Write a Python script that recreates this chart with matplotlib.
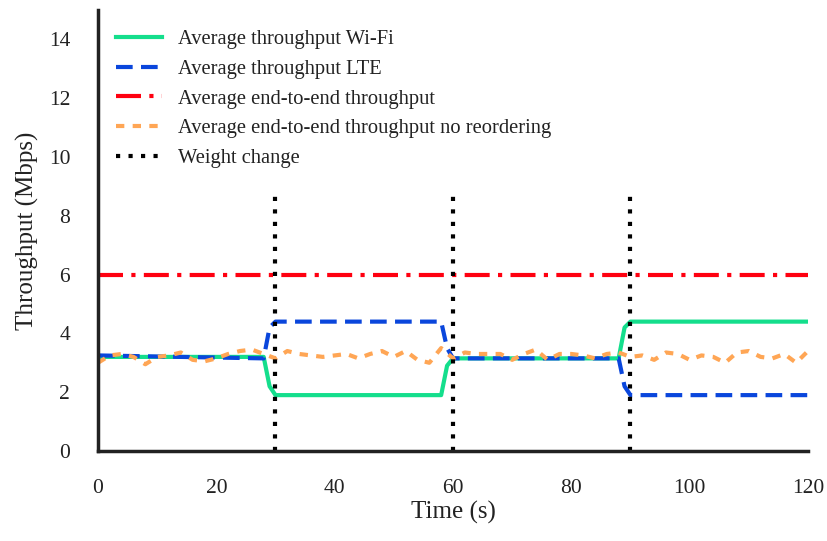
import matplotlib
matplotlib.use("Agg")
import matplotlib.pyplot as plt
import numpy as np

# step-shaped averages of the two links
t_links = [0, 28, 29, 30, 58, 59, 60, 88, 89, 90, 120]
wifi = [3.2, 3.2, 2.2, 1.9, 1.9, 2.9, 3.15, 3.15, 4.2, 4.4, 4.4]
lte = [3.25, 3.15, 4.2, 4.4, 4.4, 3.5, 3.15, 3.15, 2.2, 1.9, 1.9]

t_e2e = [0, 120]
e2e = [6.0, 6.0]

t_noreorder = list(range(0, 121, 2))
noreorder = [3.0, 3.25, 3.3, 3.2, 2.95, 3.2, 3.25, 3.35, 3.1, 3.05,
             3.15, 3.3, 3.4, 3.45, 3.3, 3.15, 3.4, 3.3, 3.25, 3.2,
             3.25, 3.3, 3.15, 3.3, 3.4, 3.2, 3.4, 3.1, 3.0, 3.5,
             3.15, 3.35, 3.3, 3.3, 3.3, 3.1, 3.3, 3.45, 3.1, 3.3,
             3.3, 3.25, 3.15, 3.3, 3.35, 3.2, 3.25, 3.1, 3.35, 3.3,
             3.1, 3.25, 3.2, 3.0, 3.35, 3.4, 3.2, 3.15, 3.3, 3.0, 3.4]

weight_changes = [30, 60, 90]
weight_top = 8.9

plt.rcParams["font.family"] = ["Liberation Serif", "DejaVu Serif"]

fig = plt.figure(figsize=(8.27, 5.41), dpi=100)
ax = fig.add_axes([0.1185, 0.1664, 0.8585, 0.8151])

ax.plot(t_links, wifi, color="#14de8c", lw=3, label="Average throughput Wi-Fi")
ax.plot(t_links, lte, color="#0a46dc", lw=3, dashes=(4, 2), label="Average throughput LTE")
ax.plot(t_e2e, e2e, color="#ff0010", lw=3, dashes=(6, 2, 1, 2), label="Average end-to-end throughput")
ax.plot(t_noreorder, noreorder, color="#ffa655", lw=3, dashes=(2, 2),
        label="Average end-to-end throughput no reordering")
for i, w in enumerate(weight_changes):
    ax.plot([w, w], [0, weight_top], color="black", lw=3, dashes=(1, 2),
            label="Weight change" if i == 0 else None)

ax.set_xlim(0, 120)
ax.set_ylim(0, 15)
ax.set_xticks(np.arange(0, 121, 20))
ax.set_yticks(np.arange(0, 15, 2))
ax.tick_params(length=0, labelsize=15.5, colors="#222222")
ax.tick_params(axis="y", pad=20)
ax.tick_params(axis="x", pad=20)
for side in ["top", "right"]:
    ax.spines[side].set_visible(False)
for side in ["left", "bottom"]:
    ax.spines[side].set_linewidth(2.5)
    ax.spines[side].set_color("#222222")

ax.set_xlabel("Time (s)", fontsize=18, color="#222222", labelpad=2)
ax.set_ylabel("Throughput (Mbps)", fontsize=18, color="#222222", labelpad=7)

leg = ax.legend(loc="upper left", frameon=False, fontsize=14.8, handlelength=2.2,
                handletextpad=0.8, labelspacing=0.5, bbox_to_anchor=(0.0, 0.997))
for txt in leg.get_texts():
    txt.set_color("#222222")

fig.savefig("out.png", dpi=100)
